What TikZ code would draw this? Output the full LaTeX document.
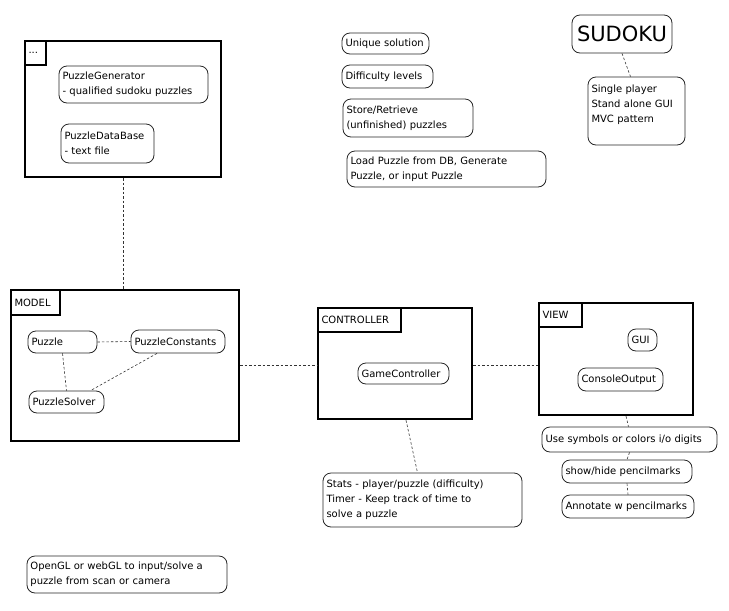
\documentclass[tikz,border=0pt]{standalone}
\usepackage{fontspec}
\setmainfont{DejaVu Sans}
\begin{document}
\begin{tikzpicture}[x=1pt,y=-1pt,
  tbox/.style={draw=black!85, line width=0.8pt, rounded corners=8pt, inner xsep=3.5pt, inner ysep=2pt,
    align=left, font=\fontsize{10}{15}\selectfont, anchor=center},
  cbox/.style={draw=black, line width=2.3pt, inner sep=0pt},
  lbox/.style={draw=black, line width=2.3pt, inner xsep=3pt, inner ysep=0pt, align=left,
    font=\fontsize{10}{12}\selectfont, anchor=center},
  big/.style={tbox, font=\fontsize{21}{24}\selectfont, align=center},
  conn/.style={draw=black!80, line width=0.6pt, dash pattern=on 2.5pt off 2pt}]
\newcommand\bx[7]{%
  \pgfmathsetmacro\bxw{#4-#2}\pgfmathsetmacro\bxh{#5-#3}%
  \pgfmathsetmacro\bxt{#4-#2-7}%
  \pgfmathsetmacro\bxx{(#2+#4)/2}\pgfmathsetmacro\bxy{(#3+#5)/2}%
  \node[#6, minimum width=\bxw pt, minimum height=\bxh pt, text width=\bxt pt] (#1) at (\bxx,\bxy) {#7};}
\newcommand\cb[5]{%
  \pgfmathsetmacro\bxw{#4-#2}\pgfmathsetmacro\bxh{#5-#3}%
  \pgfmathsetmacro\bxx{(#2+#4)/2}\pgfmathsetmacro\bxy{(#3+#5)/2}%
  \node[cbox, minimum width=\bxw pt, minimum height=\bxh pt] (#1) at (\bxx,\bxy) {};}
\useasboundingbox (0,0) rectangle (729,611);
% top container
\cb{topc}{25}{41}{221}{177}
\bx{toplbl}{25}{41}{46}{65}{lbox}{...}
\bx{gen}{59}{66}{208}{103}{tbox}{PuzzleGenerator\\\mbox{- qualified sudoku puzzles}}
\bx{db}{61}{124}{154}{163}{tbox}{PuzzleDataBase\\- text file}
% model
\cb{model}{11}{290}{239}{441}
\bx{modellbl}{11}{290}{60}{315}{lbox}{MODEL}
\bx{puzzle}{28}{331}{97}{353}{tbox}{Puzzle}
\bx{pconst}{131}{330}{225}{353}{tbox}{\mbox{PuzzleConstants}}
\bx{psolver}{29}{391}{104}{413}{tbox}{\mbox{PuzzleSolver}}
% controller
\cb{ctrl}{318}{308}{472}{419}
\bx{ctrllbl}{318}{308}{401}{332}{lbox}{\mbox{CONTROLLER}}
\bx{gc}{358}{363}{449}{384}{tbox}{\mbox{GameController}}
% view
\cb{view}{539}{303}{693}{415}
\bx{viewlbl}{539}{303}{582}{327}{lbox}{VIEW}
\bx{gui}{628}{329}{657}{351}{tbox}{GUI}
\bx{console}{578}{368}{663}{391}{tbox}{\mbox{ConsoleOutput}}
\bx{usesym}{542}{427}{717}{452}{tbox}{Use symbols or colors i/o digits}
\bx{showhide}{562}{460}{692}{483}{tbox}{show/hide pencilmarks}
\bx{annot}{562}{495}{694}{518}{tbox}{Annotate w pencilmarks}
\bx{stats}{323}{473}{522}{527}{tbox}{Stats - player/puzzle (difficulty)\\Timer - Keep track of time to\\solve a puzzle}
% top notes
\bx{unique}{342}{33}{429}{54}{tbox}{Unique solution}
\bx{diff}{342}{65}{433}{88}{tbox}{Difficulty levels}
\bx{store}{343}{99}{473}{137}{tbox}{Store/Retrieve\\(unfinished) puzzles}
\bx{load}{347}{151}{546}{187}{tbox}{Load Puzzle from DB, Generate\\Puzzle, or input Puzzle}
\bx{sudoku}{572}{15}{672}{53}{big}{SUDOKU}
\bx{single}{588}{77}{685}{145}{tbox}{Single player\\Stand alone GUI\\MVC pattern\\\mbox{}}
\bx{opengl}{27}{556}{227}{593}{tbox}{OpenGL or webGL to input/solve a\\puzzle from scan or camera}
% connectors
\draw[conn] (topc.south) -- (topc.south |- model.north);
\draw[conn] (model.east) -- (model.east -| ctrl.west);
\draw[conn] ([yshift=-1.5]ctrl.east) -- ([yshift=-1.5]ctrl.east -| view.west);
\draw[conn] ([xshift=11]ctrl.south) -- ([xshift=-5]stats.north);
\draw[conn] ([xshift=10]view.south) -- ([xshift=-1]usesym.north);
\draw[conn] (usesym.south) -- (showhide.north);
\draw[conn] (showhide.south) -- (annot.north);
\draw[conn] (sudoku.south) -- ([xshift=-6]single.north);
\draw[conn] (puzzle.east) -- (pconst.west);
\draw[conn] (puzzle.south) -- (psolver.north);
\draw[conn] ([xshift=-21]pconst.south) -- ([xshift=24]psolver.north);
\end{tikzpicture}
\end{document}
